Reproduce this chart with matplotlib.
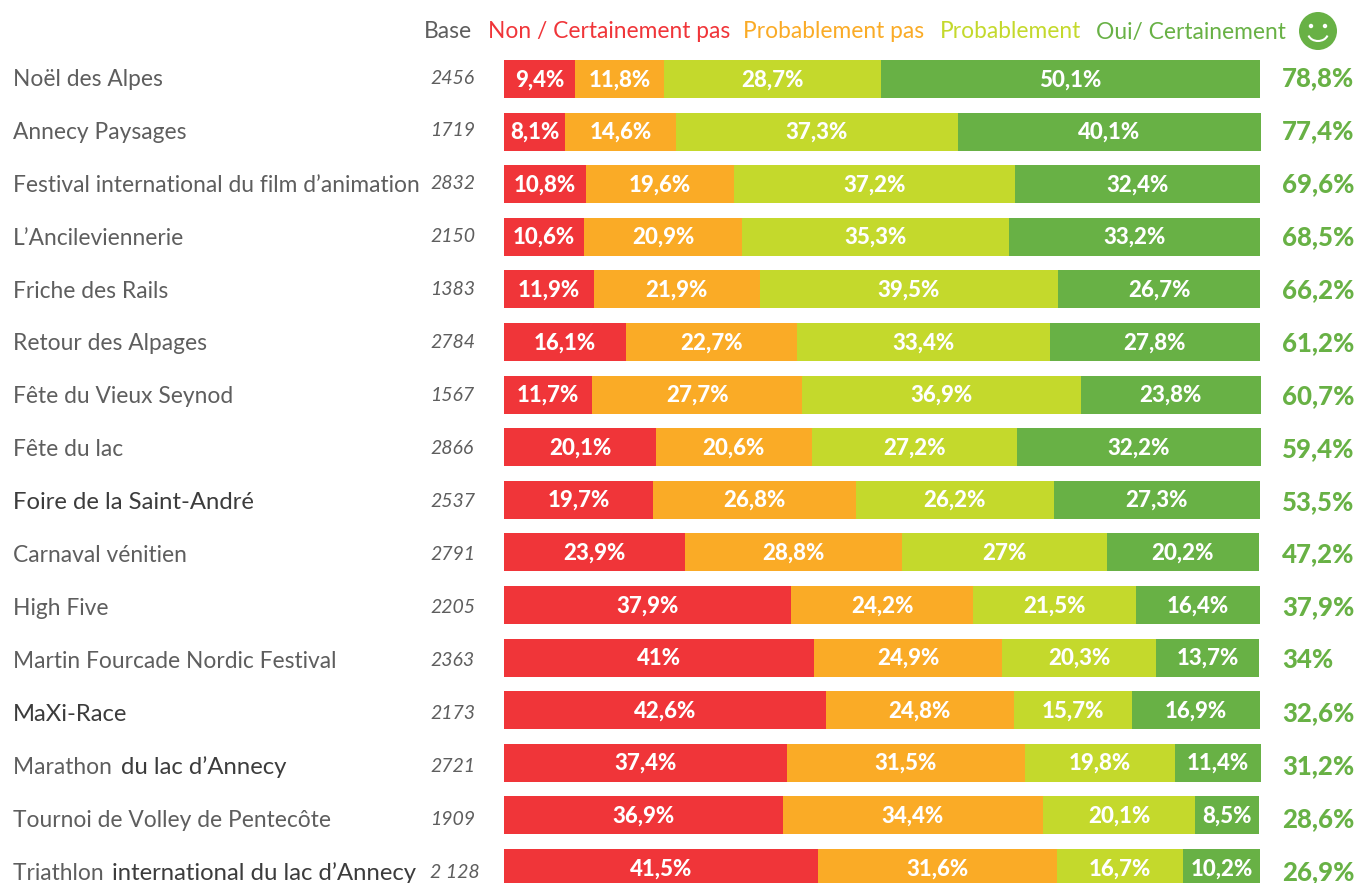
import matplotlib
matplotlib.use("Agg")
import matplotlib.pyplot as plt
from matplotlib.patches import Circle, Arc

events = ["Noël des Alpes", "Annecy Paysages", "Festival international du film d’animation",
          "L’Ancileviennerie", "Friche des Rails", "Retour des Alpages", "Fête du Vieux Seynod",
          "Fête du lac", "Foire de la Saint-André", "Carnaval vénitien", "High Five",
          "Martin Fourcade Nordic Festival", "MaXi-Race", "Marathon du lac d’Annecy",
          "Tournoi de Volley de Pentecôte", "Triathlon international du lac d’Annecy"]
bases = ["2456", "1719", "2832", "2150", "1383", "2784", "1567", "2866", "2537", "2791",
         "2205", "2363", "2173", "2721", "1909", "2 128"]
non = [9.4, 8.1, 10.8, 10.6, 11.9, 16.1, 11.7, 20.1, 19.7, 23.9, 37.9, 41, 42.6, 37.4, 36.9, 41.5]
prob_pas = [11.8, 14.6, 19.6, 20.9, 21.9, 22.7, 27.7, 20.6, 26.8, 28.8, 24.2, 24.9, 24.8, 31.5, 34.4, 31.6]
prob = [28.7, 37.3, 37.2, 35.3, 39.5, 33.4, 36.9, 27.2, 26.2, 27, 21.5, 20.3, 15.7, 19.8, 20.1, 16.7]
oui = [50.1, 40.1, 32.4, 33.2, 26.7, 27.8, 23.8, 32.2, 27.3, 20.2, 16.4, 13.7, 16.9, 11.4, 8.5, 10.2]
favorable = [78.8, 77.4, 69.6, 68.5, 66.2, 61.2, 60.7, 59.4, 53.5, 47.2, 37.9, 34, 32.6, 31.2, 28.6, 26.9]
series_names = ["Non / Certainement pas", "Probablement pas", "Probablement", "Oui/ Certainement"]
series_values = [non, prob_pas, prob, oui]
series_colors = ["#F03539", "#FAAB26", "#C4D92C", "#68B145"]

W, H = 1357, 883
GREY = "#5E5E5E"
DARK = "#3C3C3C"
FONT = "Lato"
fig = plt.figure(figsize=(W / 100, H / 100), dpi=100, facecolor="white")

ax = fig.add_axes([0, 0, 1, 1])
px_per_unit = 7.56
ax.set_xlim(-504 / px_per_unit, (W - 504) / px_per_unit)
row_h = 52.6
ax.set_ylim((H - 79) / row_h, -79 / row_h)
ax.axis("off")

n = len(events)
left = [0.0] * n
for vals, col in zip(series_values, series_colors):
    ax.barh(range(n), vals, left=left, height=38 / row_h, color=col, linewidth=0)
    for i, v in enumerate(vals):
        ax.text(left[i] + v / 2, i + 0.015, f"{v:g}".replace(".", ",") + "%", ha="center", va="center",
                color="white", fontsize=16, fontweight="black", family=FONT)
    left = [a + b for a, b in zip(left, vals)]

ov = fig.add_axes([0, 0, 1, 1], facecolor="none")
ov.set_xlim(0, W)
ov.set_ylim(H, 0)
ov.axis("off")

emph = {8: 0, 12: 0, 13: 9, 15: 10}
r = fig.canvas.get_renderer()
LABEL = 16.4
EMPH = 17.2
text_row = 52.95
for i, name in enumerate(events):
    y = 78 + i * text_row
    ly = y + 1.2
    if i in emph:
        cut = emph[i]
        x = 13
        if cut:
            t = ov.text(x, ly, name[:cut], ha="left", va="center", fontsize=LABEL, color=GREY, family=FONT)
            x = t.get_window_extent(r).x1 + 3
        ov.text(x, ly, name[cut:], ha="left", va="center", fontsize=EMPH, color=DARK, family=FONT)
    else:
        ov.text(13, ly, name, ha="left", va="center", fontsize=LABEL, color=GREY, family=FONT)
    ov.text(430, y, bases[i], ha="left", va="center", fontsize=14, color=GREY, style="italic", family=FONT)
    ov.text(1282, y, f"{favorable[i]:g}".replace(".", ",") + "%", ha="left", va="center",
            fontsize=18.5, color=series_colors[3], fontweight="black", family=FONT)

ov.text(424, 32, "Base", ha="left", va="center", fontsize=16.4, color=GREY, family=FONT)
for name, col, x in zip(series_names, series_colors, [488, 743, 940, 1096]):
    ov.text(x, 32, name, ha="left", va="center", fontsize=16.4, color=col, family=FONT)

ov.add_patch(Circle((1318, 31), 19, color=series_colors[3], lw=0))
ov.add_patch(Circle((1311, 26), 2.2, color="white", lw=0))
ov.add_patch(Circle((1325, 26), 2.2, color="white", lw=0))
ov.add_patch(Arc((1318, 33), 20, 16, theta1=15, theta2=165, color="white", lw=1.5))

fig.savefig("out.png", dpi=100, facecolor="white")
